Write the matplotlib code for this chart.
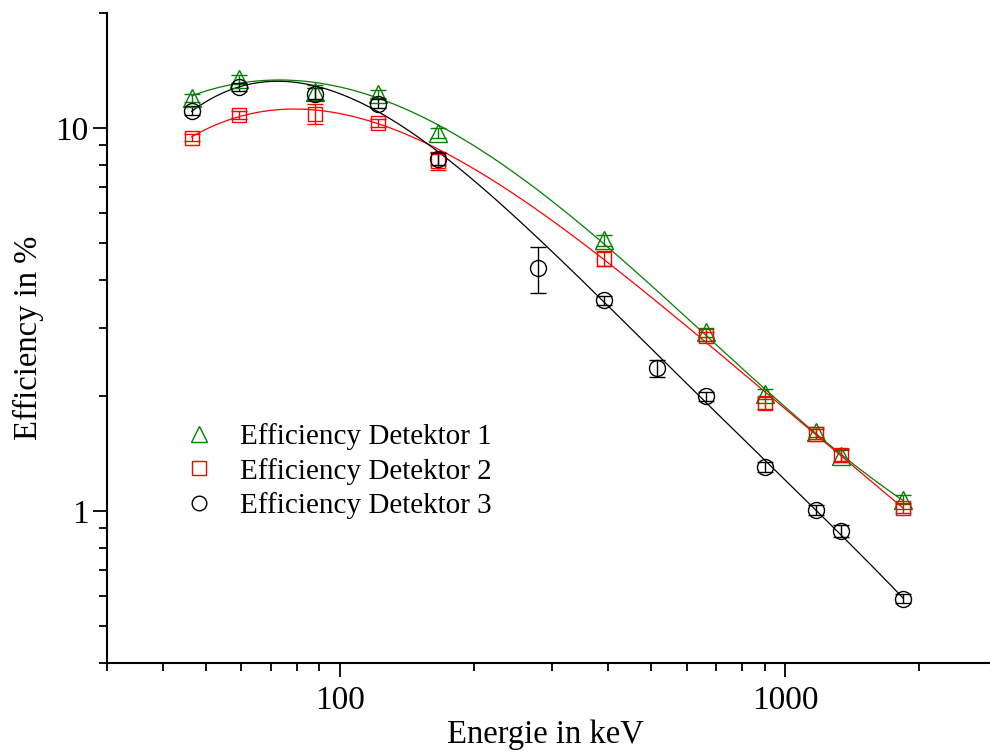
import numpy as np
import matplotlib
matplotlib.use("Agg")
import matplotlib.pyplot as plt
from matplotlib.lines import Line2D
from matplotlib.ticker import LogLocator, NullFormatter, FixedLocator, FixedFormatter

plt.rcParams['font.family'] = ['Liberation Serif', 'DejaVu Serif']

# energies of the calibration lines (keV)
energy_12 = [46.5, 59.5, 88.0, 122.0, 166.0, 392.0, 662.0, 898.0, 1173.0, 1333.0, 1836.0]
energy_3 = [46.5, 59.5, 88.0, 122.0, 166.0, 279.0, 392.0, 514.0, 662.0, 898.0, 1173.0, 1333.0, 1836.0]

# efficiencies in %
eff_1 = [12.0, 13.4, 12.4, 12.3, 9.7, 5.09, 2.93, 2.02, 1.61, 1.39, 1.07]
eff_2 = [9.43, 10.83, 10.9, 10.32, 8.22, 4.56, 2.86, 1.91, 1.59, 1.40, 1.02]
eff_3 = [11.1, 12.8, 12.3, 11.57, 8.32, 4.30, 3.55, 2.36, 1.99, 1.30, 1.006, 0.887, 0.590]

# uncertainties
err_1 = [0.3, 0.35, 0.55, 0.3, 0.3, 0.17, 0.08, 0.06, 0.05, 0.05, 0.03]
err_2 = [0.2, 0.25, 0.65, 0.25, 0.45, 0.2, 0.08, 0.07, 0.05, 0.05, 0.03]
err_3 = [0.3, 0.3, 0.4, 0.3, 0.3, 0.6, 0.1, 0.12, 0.05, 0.04, 0.03, 0.03, 0.015]

labels = ["Efficiency Detektor 1", "Efficiency Detektor 2", "Efficiency Detektor 3"]
colors = ["#008000", "#ff0000", "#000000"]
markers = ["^", "s", "o"]
msizes = [12.5, 10.5, 11.5]

fig = plt.figure(figsize=(9.9, 7.54), dpi=100)
ax = fig.add_axes([0.108, 0.1203, 0.9, 0.8629])

series = [(energy_12, eff_1, err_1), (energy_12, eff_2, err_2), (energy_3, eff_3, err_3)]
for (e, eff, err), c, m, ms in zip(series, colors, markers, msizes):
    e = np.array(e)
    eff = np.array(eff)
    err = np.array(err)
    # weighted polynomial fit in log-log space
    coef = np.polyfit(np.log(e), np.log(eff), 4, w=eff / err)
    ef = np.logspace(np.log10(e.min()), np.log10(e.max()), 300)
    ax.plot(ef, np.exp(np.polyval(coef, np.log(ef))), color=c, lw=0.9)
    ax.errorbar(e, eff, yerr=err, fmt=m, mfc='none', mec=c, ecolor=c, ms=ms,
                mew=1.0, elinewidth=1.0, capsize=6, capthick=1.0)

ax.set_xscale('log')
ax.set_yscale('log')
ax.set_xlim(30, 3000)
ax.set_ylim(0.4, 20)

ax.xaxis.set_major_locator(FixedLocator([100, 1000]))
ax.xaxis.set_major_formatter(FixedFormatter(['100', '1000']))
ax.xaxis.set_minor_locator(LogLocator(base=10, subs=np.arange(2, 10)))
ax.xaxis.set_minor_formatter(NullFormatter())
ax.yaxis.set_major_locator(FixedLocator([1, 10]))
ax.yaxis.set_major_formatter(FixedFormatter(['1', '10']))
ax.yaxis.set_minor_locator(LogLocator(base=10, subs=np.arange(2, 10)))
ax.yaxis.set_minor_formatter(NullFormatter())

for s in ['top', 'right']:
    ax.spines[s].set_visible(False)
for s in ['left', 'bottom']:
    ax.spines[s].set_linewidth(1.5)
ax.tick_params(which='major', length=10, width=1.3, labelsize=24)
ax.tick_params(axis='x', which='major', pad=6)
ax.tick_params(axis='y', which='major', pad=3)
ax.tick_params(which='minor', length=5.5, width=1.3)

ax.set_xlabel("Energie in keV", fontsize=23.5)
ax.set_ylabel("Efficiency in %", fontsize=23.5)
ax.xaxis.set_label_coords(0.492, -0.087)
ax.yaxis.set_label_coords(-0.071, 0.5)

handles = [Line2D([], [], ls='none', marker=m, mfc='none', mec=c, ms=ms - 1, mew=1.0)
           for c, m, ms in zip(colors, markers, msizes)]
ax.legend(handles, labels, loc='upper left', bbox_to_anchor=(0.054, 0.41), frameon=False,
          fontsize=21, handlelength=1.2, handletextpad=0.82, labelspacing=0.27)

fig.savefig("out.png", dpi=100)
